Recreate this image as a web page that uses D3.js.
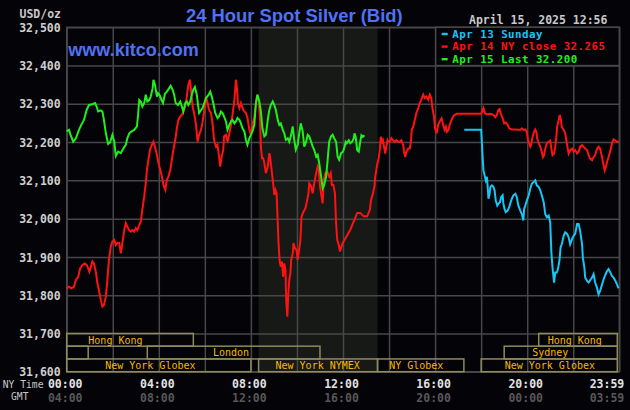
<!DOCTYPE html>
<html><head><meta charset="utf-8">
<script src="https://cdn.jsdelivr.net/npm/d3@7"></script>
<style>html,body{margin:0;padding:0;background:#040308;}svg{display:block}</style>
</head><body>
<svg id="c" width="630" height="410"></svg>
<script>
// ---------- DATA ----------
const yTickValues = [32.5, 32.4, 32.3, 32.2, 32.1, 32.0, 31.9, 31.8, 31.7, 31.6];
const yTickLabels = ["32,500","32,400","32,300","32,200","32,100","32,000","31,900","31,800","31,700","31,600"];
const xTickMinutes = [0, 240, 480, 720, 960, 1200, 1439];
const nyTimeLabels = ["00:00","04:00","08:00","12:00","16:00","20:00","23:59"];
const gmtLabels = ["04:00","08:00","12:00","16:00","20:00","00:00","03:59"];
const gridMinutes = [0,120,240,360,480,600,720,840,960,1080,1200,1320,1440];
const nymexShade = [500, 810];

// Apr 13 Sunday (minutes after 00:00 NY, price)
const sundaySeries = [[1036,32.232],[1080,32.232],[1082,32.197],[1084,32.157],[1086,32.126],[1089,32.113],[1092,32.100],[1095,32.109],[1097,32.083],[1099,32.052],[1102,32.065],[1104,32.083],[1108,32.087],[1112,32.083],[1115,32.074],[1118,32.047],[1122,32.034],[1125,32.039],[1129,32.043],[1132,32.056],[1136,32.061],[1138,32.039],[1141,32.025],[1144,32.017],[1149,32.021],[1153,32.030],[1157,32.043],[1160,32.052],[1164,32.061],[1169,32.065],[1173,32.056],[1177,32.034],[1182,32.021],[1186,32.012],[1190,31.995],[1192,32.025],[1195,32.034],[1199,32.047],[1204,32.061],[1208,32.078],[1212,32.091],[1217,32.096],[1221,32.100],[1225,32.087],[1230,32.083],[1234,32.074],[1238,32.061],[1243,32.043],[1247,32.012],[1251,32.004],[1256,32.008],[1260,31.990],[1263,31.911],[1266,31.872],[1270,31.833],[1273,31.859],[1277,31.859],[1280,31.868],[1284,31.890],[1287,31.925],[1290,31.933],[1295,31.955],[1299,31.964],[1304,31.960],[1308,31.951],[1312,31.933],[1317,31.947],[1321,31.955],[1325,31.960],[1330,31.986],[1334,31.986],[1338,31.968],[1343,31.933],[1345,31.898],[1349,31.872],[1351,31.846],[1356,31.837],[1360,31.833],[1364,31.839],[1369,31.846],[1373,31.855],[1377,31.833],[1382,31.819],[1386,31.802],[1390,31.811],[1395,31.828],[1399,31.841],[1404,31.854],[1408,31.863],[1412,31.868],[1417,31.859],[1421,31.850],[1425,31.846],[1430,31.837],[1434,31.828],[1438,31.818]];

// Apr 14 NY close
const mondaySeries = [[0,31.818],[6,31.822],[12,31.818],[19,31.822],[24,31.840],[30,31.848],[35,31.870],[41,31.879],[47,31.883],[52,31.879],[56,31.870],[59,31.861],[63,31.874],[67,31.888],[71,31.883],[76,31.861],[80,31.831],[84,31.813],[89,31.787],[93,31.770],[97,31.774],[102,31.796],[106,31.840],[110,31.892],[115,31.927],[119,31.940],[124,31.944],[128,31.931],[132,31.936],[137,31.936],[141,31.909],[145,31.936],[150,31.970],[154,31.988],[158,31.979],[163,31.970],[167,31.966],[171,31.970],[176,31.966],[180,31.975],[184,31.970],[189,31.983],[193,31.992],[197,32.023],[202,32.058],[206,32.092],[209,32.127],[213,32.154],[217,32.180],[222,32.193],[226,32.201],[230,32.188],[235,32.167],[239,32.145],[244,32.127],[248,32.110],[252,32.088],[257,32.075],[261,32.101],[265,32.110],[270,32.127],[274,32.154],[278,32.180],[283,32.206],[287,32.236],[291,32.258],[296,32.267],[300,32.271],[304,32.280],[309,32.293],[313,32.319],[317,32.350],[321,32.363],[324,32.337],[328,32.293],[332,32.276],[337,32.245],[341,32.201],[345,32.219],[350,32.232],[354,32.252],[358,32.280],[363,32.319],[367,32.302],[371,32.284],[376,32.276],[380,32.249],[384,32.206],[389,32.188],[393,32.193],[397,32.162],[400,32.136],[404,32.162],[408,32.180],[410,32.215],[415,32.219],[419,32.201],[424,32.223],[428,32.245],[432,32.271],[437,32.310],[441,32.363],[444,32.337],[446,32.302],[450,32.289],[454,32.302],[458,32.289],[463,32.280],[467,32.276],[471,32.263],[476,32.232],[480,32.219],[484,32.245],[489,32.267],[493,32.302],[497,32.324],[500,32.310],[504,32.258],[506,32.188],[509,32.158],[512,32.158],[515,32.145],[519,32.119],[524,32.136],[528,32.171],[530,32.162],[534,32.127],[537,32.101],[541,32.062],[544,32.075],[547,32.066],[550,31.988],[552,31.936],[555,31.888],[558,31.874],[561,31.888],[564,31.848],[567,31.883],[570,31.866],[572,31.787],[575,31.744],[577,31.796],[580,31.840],[583,31.857],[585,31.892],[589,31.909],[591,31.936],[595,31.922],[599,31.918],[602,31.892],[605,31.914],[609,31.944],[612,32.005],[617,32.018],[622,32.027],[626,32.045],[630,32.066],[632,32.092],[637,32.084],[641,32.066],[645,32.092],[650,32.119],[654,32.136],[657,32.127],[660,32.084],[664,32.058],[667,32.040],[670,32.101],[674,32.119],[679,32.123],[684,32.110],[688,32.119],[691,32.088],[695,32.088],[699,32.066],[702,31.988],[705,31.944],[709,31.931],[712,31.914],[716,31.927],[719,31.936],[724,31.944],[739,31.971],[748,31.993],[757,32.015],[765,32.015],[774,32.006],[783,32.006],[790,32.023],[793,32.049],[797,32.062],[802,32.084],[804,32.110],[809,32.141],[813,32.158],[816,32.180],[818,32.210],[819,32.214],[822,32.201],[824,32.205],[827,32.188],[830,32.170],[833,32.188],[836,32.205],[838,32.201],[842,32.201],[846,32.210],[850,32.205],[855,32.201],[859,32.205],[864,32.201],[868,32.201],[872,32.205],[877,32.192],[879,32.175],[882,32.161],[885,32.175],[890,32.183],[894,32.183],[897,32.201],[899,32.232],[903,32.240],[907,32.258],[911,32.275],[916,32.289],[920,32.302],[924,32.311],[929,32.324],[933,32.315],[937,32.319],[942,32.311],[946,32.324],[950,32.315],[953,32.289],[957,32.267],[960,32.236],[964,32.223],[968,32.245],[972,32.254],[977,32.262],[981,32.245],[985,32.232],[988,32.240],[991,32.227],[995,32.232],[998,32.245],[1003,32.258],[1007,32.267],[1011,32.271],[1017,32.274],[1080,32.274],[1084,32.284],[1086,32.289],[1090,32.275],[1095,32.273],[1104,32.274],[1112,32.271],[1117,32.265],[1121,32.271],[1125,32.284],[1128,32.286],[1131,32.275],[1136,32.262],[1140,32.249],[1144,32.251],[1149,32.245],[1153,32.236],[1160,32.233],[1169,32.233],[1177,32.232],[1182,32.232],[1186,32.236],[1190,32.232],[1195,32.233],[1199,32.227],[1202,32.205],[1205,32.197],[1208,32.188],[1210,32.192],[1214,32.214],[1218,32.227],[1221,32.233],[1224,32.227],[1226,32.210],[1230,32.197],[1234,32.188],[1238,32.175],[1241,32.161],[1244,32.166],[1247,32.183],[1251,32.197],[1256,32.201],[1260,32.204],[1263,32.183],[1266,32.166],[1270,32.170],[1273,32.188],[1276,32.214],[1278,32.240],[1282,32.258],[1285,32.271],[1288,32.258],[1290,32.240],[1295,32.232],[1299,32.223],[1304,32.192],[1308,32.170],[1312,32.179],[1317,32.183],[1321,32.175],[1325,32.179],[1330,32.170],[1334,32.175],[1338,32.188],[1343,32.192],[1347,32.188],[1351,32.183],[1356,32.179],[1360,32.166],[1364,32.157],[1369,32.153],[1373,32.161],[1377,32.166],[1382,32.183],[1386,32.188],[1390,32.183],[1395,32.161],[1399,32.140],[1402,32.126],[1405,32.135],[1408,32.148],[1412,32.161],[1417,32.179],[1421,32.197],[1425,32.207],[1430,32.204],[1434,32.201],[1439,32.201]];

// Apr 15 Last
const todaySeries = [[0,32.228],[6,32.232],[10,32.219],[17,32.201],[24,32.210],[32,32.232],[38,32.245],[45,32.258],[52,32.284],[58,32.297],[67,32.299],[74,32.302],[78,32.293],[82,32.280],[89,32.283],[93,32.280],[97,32.258],[102,32.223],[108,32.195],[113,32.199],[119,32.219],[124,32.201],[128,32.164],[134,32.175],[141,32.171],[148,32.184],[154,32.193],[158,32.210],[163,32.223],[169,32.228],[176,32.232],[183,32.241],[186,32.271],[189,32.310],[193,32.306],[197,32.293],[202,32.302],[206,32.324],[210,32.306],[215,32.310],[219,32.319],[224,32.341],[226,32.363],[230,32.350],[235,32.319],[238,32.328],[243,32.321],[247,32.310],[251,32.302],[256,32.326],[261,32.332],[267,32.341],[271,32.347],[276,32.337],[280,32.324],[284,32.302],[290,32.297],[296,32.306],[300,32.293],[304,32.280],[309,32.302],[313,32.306],[317,32.297],[322,32.306],[326,32.324],[330,32.337],[334,32.344],[339,32.324],[345,32.276],[354,32.289],[363,32.315],[370,32.324],[374,32.332],[378,32.319],[383,32.297],[387,32.276],[393,32.263],[397,32.267],[402,32.280],[406,32.276],[410,32.267],[415,32.254],[419,32.232],[424,32.245],[428,32.254],[432,32.258],[437,32.249],[441,32.254],[445,32.263],[450,32.258],[454,32.249],[458,32.236],[463,32.228],[467,32.206],[471,32.193],[476,32.210],[480,32.219],[484,32.228],[489,32.245],[493,32.302],[497,32.324],[502,32.306],[506,32.280],[510,32.236],[515,32.215],[519,32.219],[524,32.258],[528,32.284],[532,32.297],[537,32.306],[541,32.297],[545,32.284],[550,32.258],[554,32.245],[558,32.249],[563,32.232],[567,32.223],[571,32.206],[576,32.210],[580,32.201],[584,32.215],[589,32.241],[593,32.206],[597,32.180],[602,32.193],[606,32.223],[610,32.249],[615,32.228],[619,32.188],[624,32.201],[628,32.219],[632,32.215],[637,32.201],[641,32.188],[645,32.180],[650,32.162],[654,32.167],[658,32.145],[663,32.110],[667,32.079],[671,32.088],[676,32.110],[680,32.154],[684,32.201],[689,32.215],[693,32.219],[697,32.210],[702,32.201],[706,32.162],[710,32.154],[715,32.171],[720,32.175],[724,32.188],[727,32.201],[730,32.197],[735,32.205],[739,32.197],[744,32.201],[748,32.210],[750,32.223],[753,32.214],[757,32.179],[761,32.175],[765,32.201],[768,32.218],[772,32.214],[776,32.218]];

const legendLabels = ["Apr 13 Sunday", "Apr 14 NY close 32.265", "Apr 15 Last 32.200"];
const seriesColors = ["#16c6f6", "#ff1212", "#1ef01a"];

// market sessions: row, start minute, end minute, label, label centre minute
const sessionRows = [0, 0, 1, 1, 1, 2, 2, 2, 2];
const sessionStart = [0, 1230, 0, 210, 1140, 0, 500, 810, 1080];
const sessionEnd = [330, 1440, 56, 660, 1440, 480, 810, 1035, 1440];
const sessionNames = ["Hong Kong", "Hong Kong", "", "London", "Sydney", "New York Globex", "New York NYMEX", "NY Globex", "New York Globex"];
const sessionLabelAt = [127, 1324, 0, 428, 1260, 218, 654, 911, 1259];

// ---------- CHART ----------
const svg = d3.select("#c");
const L = 66.7, R = 619.3, T = 27.3, B = 371.7;
const x = d3.scaleLinear().domain([0, 1440]).range([L, R]);
const y = d3.scaleLinear().domain([31.6, 32.5]).range([B, T]);
const mono = "'DejaVu Sans Mono', monospace";
const gridColor = "#474747";

svg.append("rect").attr("width", 630).attr("height", 410).attr("fill", "#040308");

svg.append("rect").attr("x", x(nymexShade[0])).attr("y", T)
  .attr("width", x(nymexShade[1]) - x(nymexShade[0])).attr("height", B - T).attr("fill", "#161916");

// horizontal grid + y labels
const gy = svg.append("g").attr("transform", `translate(${L},0)`)
  .call(d3.axisLeft(y).tickValues(yTickValues).tickSize(-(R - L)).tickPadding(6)
    .tickFormat((d, i) => yTickLabels[i]));
gy.select(".domain").remove();
gy.selectAll("line").attr("stroke", gridColor).attr("stroke-width", 1.5);
gy.selectAll("text").attr("fill", "#cfcfcf").attr("font-family", mono).attr("font-weight", "bold")
  .attr("font-size", "11.5px").attr("dy", "0.36em");

// vertical grid
const gx = svg.append("g").attr("transform", `translate(0,${B})`)
  .call(d3.axisBottom(x).tickValues(gridMinutes).tickSize(-(B - T)).tickFormat(""));
gx.select(".domain").remove();
gx.selectAll("line").attr("stroke", gridColor).attr("stroke-width", 1.5);

// border
svg.append("rect").attr("x", L).attr("y", T).attr("width", R - L).attr("height", B - T)
  .attr("fill", "none").attr("stroke", gridColor).attr("stroke-width", 1.5);

// sessions
const rowH = (y(31.6) - y(31.7)) / 3;
const sess = svg.append("g");
sessionRows.forEach((r, i) => {
  const top = y(31.7) + r * rowH;
  sess.append("rect").attr("x", x(sessionStart[i])).attr("y", top)
    .attr("width", x(sessionEnd[i]) - x(sessionStart[i]) - (sessionEnd[i] === 1440 ? 2 : 0)).attr("height", rowH)
    .attr("fill", "none").attr("stroke", "#8e8a5c").attr("stroke-width", 1.5);
  if (sessionNames[i]) {
    sess.append("text").attr("x", x(sessionLabelAt[i])).attr("y", top + rowH - 2.6)
      .attr("text-anchor", "middle").attr("fill", "#f6b800").attr("font-family", mono)
      .attr("font-size", "10px").text(sessionNames[i]);
  }
});

// lines
const line = d3.line().x(d => x(d[0])).y(d => y(d[1]));
[sundaySeries, mondaySeries, todaySeries].forEach((s, i) => {
  svg.append("path").datum(s).attr("d", line).attr("fill", "none")
    .attr("stroke", seriesColors[i]).attr("stroke-width", 2).attr("stroke-linejoin", "miter");
});

// legend
const lgX = 435.7;
svg.append("rect").attr("x", lgX).attr("y", T).attr("width", R - lgX).attr("height", y(32.4) - T)
  .attr("fill", "#040308").attr("stroke", gridColor).attr("stroke-width", 1.5);
legendLabels.forEach((t, i) => {
  const by = 37.6 + i * 12.6;
  svg.append("rect").attr("x", 441.7).attr("y", by - 4.8).attr("width", 6).attr("height", 2.4).attr("fill", seriesColors[i]);
  svg.append("text").attr("x", 452.3).attr("y", by).attr("fill", seriesColors[i])
    .attr("font-family", mono).attr("font-weight", "bold").attr("font-size", "10.8px")
    .attr("textLength", t.length * 6.94).attr("lengthAdjust", "spacing").text(t);
});

// titles
svg.append("text").attr("x", 294.3).attr("y", 22).attr("text-anchor", "middle")
  .attr("fill", "#4f72f2").attr("font-family", "'Liberation Sans', Arial, sans-serif")
  .attr("font-weight", "bold").attr("font-size", "18.4px").text("24 Hour Spot Silver (Bid)");
svg.append("text").attr("x", 68.3).attr("y", 56)
  .attr("fill", "#4f72f2").attr("font-family", "'Liberation Sans', Arial, sans-serif")
  .attr("font-weight", "bold").attr("font-size", "18px").text("www.kitco.com");
svg.append("text").attr("x", 469).attr("y", 24).attr("fill", "#c8c8c8")
  .attr("font-family", mono).attr("font-weight", "bold").attr("font-size", "11.5px").text("April 15, 2025 12:56");
svg.append("text").attr("x", 61).attr("y", 17.5).attr("text-anchor", "end").attr("fill", "#c8c8c8")
  .attr("font-family", mono).attr("font-weight", "bold").attr("font-size", "11.5px").text("USD/oz");

// x labels
svg.append("text").attr("x", 2.7).attr("y", 387.5).attr("fill", "#c8c8c8")
  .attr("font-family", mono).attr("font-size", "9.7px").text("NY Time");
svg.append("text").attr("x", 11).attr("y", 399.5).attr("fill", "#c8c8c8")
  .attr("font-family", mono).attr("font-size", "9.7px").text("GMT");
xTickMinutes.forEach((m, i) => {
  const last = i === xTickMinutes.length - 1;
  const tx = last ? 624.3 : x(m) - 1.5;
  const anchor = last ? "end" : "middle";
  svg.append("text").attr("x", tx).attr("y", 388).attr("text-anchor", anchor).attr("fill", "#e2e2e2")
    .attr("font-family", mono).attr("font-weight", "bold").attr("font-size", "11.5px").text(nyTimeLabels[i]);
  svg.append("text").attr("x", tx).attr("y", 401.5).attr("text-anchor", anchor).attr("fill", "#575757")
    .attr("font-family", mono).attr("font-weight", "bold").attr("font-size", "11.5px").text(gmtLabels[i]);
});
</script>
</body></html>
